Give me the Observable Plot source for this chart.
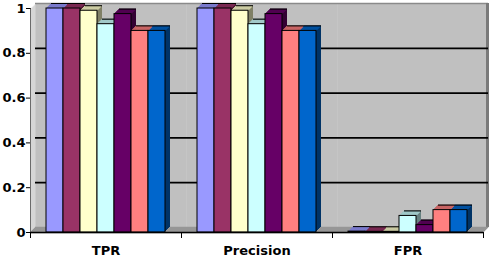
<!DOCTYPE html>
<html><head><meta charset="utf-8">
<script src="https://cdn.jsdelivr.net/npm/d3@7"></script>
<script src="https://cdn.jsdelivr.net/npm/@observablehq/plot@0.6"></script>
<style>body{margin:0;background:#fff;} #chart svg{display:block;}</style>
</head><body><div id="chart"></div>
<script>
const groups = ["TPR", "Precision", "FPR"];
const series = ["Series 1", "Series 2", "Series 3", "Series 4", "Series 5", "Series 6", "Series 7"];
const tpr = [1.0, 1.0, 0.99, 0.93, 0.975, 0.9, 0.9];
const precision = [1.0, 1.0, 0.99, 0.93, 0.975, 0.9, 0.9];
const fpr = [0.004, 0.003, 0.003, 0.074, 0.033, 0.1, 0.1];
const colors = ["#9999FF", "#993366", "#FFFFCC", "#CCFFFF", "#660066", "#FF8080", "#0066CC"];
const yTicks = [0, 0.2, 0.4, 0.6, 0.8, 1];
const yTickLabels = ["0", "0.2", "0.4", "0.6", "0.8", "1"];
const gridTicks = [0.2, 0.4, 0.6, 0.8];
const lastGroup = [{group: "FPR"}];

const valuesByGroup = [tpr, precision, fpr];
const data = groups.flatMap((g, gi) => series.map((s, si) => ({group: g, series: s, value: valuesByGroup[gi][si], color: colors[si]})));

function shade(c, f) {
  const r = d3.rgb(c);
  return d3.rgb(r.r * f, r.g * f, r.b * f).formatHex();
}
const depth = [1, 2, 3, 4, 5];
const floorDepth = [0, 1, 2, 3, 4, 5];

const marks = [];
// left wall (union of offset frames)
for (const k of floorDepth) marks.push(Plot.frame({fill: "#d6d6d6", stroke: null, dx: k, dy: -k}));
// back wall
marks.push(Plot.frame({fill: "#c0c0c0", stroke: null, dx: 5, dy: -5}));
marks.push(Plot.ruleY([1], {stroke: "#8a8a8a", strokeWidth: 1.5, dx: 5, dy: -5}));
// right edge of the back wall
marks.push(Plot.rect(lastGroup, {fx: "group", fill: "#7a7a7a", insetLeft: 148, dx: 6, dy: -5}));
// gridlines on back wall
marks.push(Plot.gridY(gridTicks, {stroke: "#000", strokeOpacity: 1, strokeWidth: 1.8, dx: 5, dy: -5}));
// floor
for (const k of floorDepth) marks.push(Plot.ruleY([0], {stroke: "#969696", strokeWidth: 1.5, dx: k, dy: -k}));
// bar sides
for (const k of depth) marks.push(Plot.barY(data, {fx: "group", x: "series", y: "value", fill: d => shade(d.color, 0.5), dx: k, dy: -k}));
// bar tops
for (const k of depth) marks.push(Plot.tickY(data, {fx: "group", x: "series", y: "value", stroke: d => k === 5 ? "#000" : shade(d.color, 0.8), strokeWidth: k === 5 ? 1 : 1.5, dx: k, dy: -k}));
// bar fronts
marks.push(Plot.barY(data, {fx: "group", x: "series", y: "value", fill: d => d.color, stroke: "#000", strokeWidth: 1}));
// x axis line
marks.push(Plot.ruleY([0], {stroke: "#000", strokeWidth: 1.5}));
// category boundary ticks
marks.push(Plot.frame({anchor: "left", stroke: "#000", strokeWidth: 1, insetTop: 224, insetBottom: -5}));
marks.push(Plot.frame({anchor: "right", stroke: "#000", strokeWidth: 1, insetTop: 224, insetBottom: -5}));

const chart = Plot.plot({
  width: 490,
  height: 260,
  marginLeft: 30,
  marginRight: 7,
  marginTop: 8,
  marginBottom: 28,
  style: {fontFamily: "DejaVu Sans", fontSize: "13px", fontWeight: "bold", color: "#000", background: "#fff"},
  color: {type: "identity"},
  fx: {domain: groups, padding: 0, label: null, axis: "bottom", tickSize: 0, tickPadding: 13},
  x: {domain: series, paddingInner: 0, paddingOuter: 0.76, axis: null},
  y: {domain: [0, 1], ticks: yTicks, tickFormat: (d, i) => yTickLabels[yTicks.indexOf(d)], tickSize: 4, tickPadding: 1, line: true, label: null},
  marks
});
document.getElementById("chart").appendChild(chart);
</script>
</body></html>
